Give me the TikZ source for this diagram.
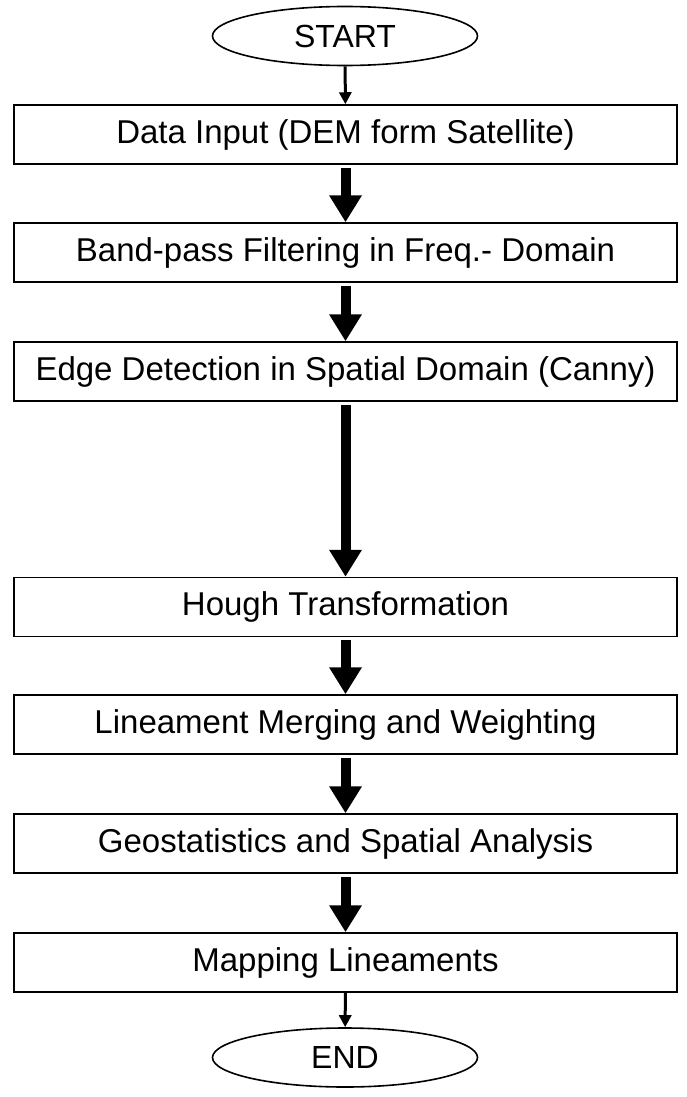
\documentclass[tikz,border=0pt]{standalone}
\usepackage{fontspec}
\setmainfont{Liberation Sans}
\usetikzlibrary{shapes.geometric,arrows.meta}

\tikzset{
    stepbox/.style={draw, line width=1.5pt, minimum width=663pt, minimum height=59pt,
        inner sep=0pt, font=\fontsize{33}{40}\selectfont},
    terminal/.style={draw, ellipse, line width=1.6pt, minimum width=265pt, minimum height=59pt,
        inner sep=0pt, font=\fontsize{32}{38}\selectfont},
    thinarrow/.style={line width=3pt, -{Triangle[width=12pt,length=12pt]}},
    thickarrow/.style={line width=10pt, shorten <=3pt, -{Triangle[width=31pt,length=27pt]}}
}

\begin{document}
\begin{tikzpicture}[x=1pt, y=-1pt]
            \useasboundingbox (0,0) rectangle (686,1097);
            \node [terminal] (start) at (345,36) {START};
            \node [stepbox] (input) at (345.5,134.5) {Data Input (DEM form Satellite)};
            \node [stepbox] (filter) at (345.5,252.5) {Band-pass Filtering in Freq.- Domain};
            \node [stepbox] (edge) at (345.5,371.5) {Edge Detection in Spatial Domain (Canny)};
            \node [stepbox] (hough) at (345.5,607) {Hough Transformation};
            \node [stepbox] (merge) at (345.5,724.5) {Lineament Merging and Weighting};
            \node [stepbox] (geostat) at (345.5,843.5) {Geostatistics and Spatial Analysis};
            \node [stepbox] (mapping) at (345.5,962.5) {Mapping Lineaments};
            \node [terminal] (end) at (345,1057.5) {END};
            \draw [thinarrow] (start) -- (input);
            \draw [thickarrow] (input) -- (filter);
            \draw [thickarrow] (filter) -- (edge);
            \draw [thickarrow] (edge) -- (hough);
            \draw [thickarrow] (hough) -- (merge);
            \draw [thickarrow] (merge) -- (geostat);
            \draw [thickarrow] (geostat) -- (mapping);
            \draw [thinarrow] (mapping) -- (end);
        \end{tikzpicture}
\end{document}
